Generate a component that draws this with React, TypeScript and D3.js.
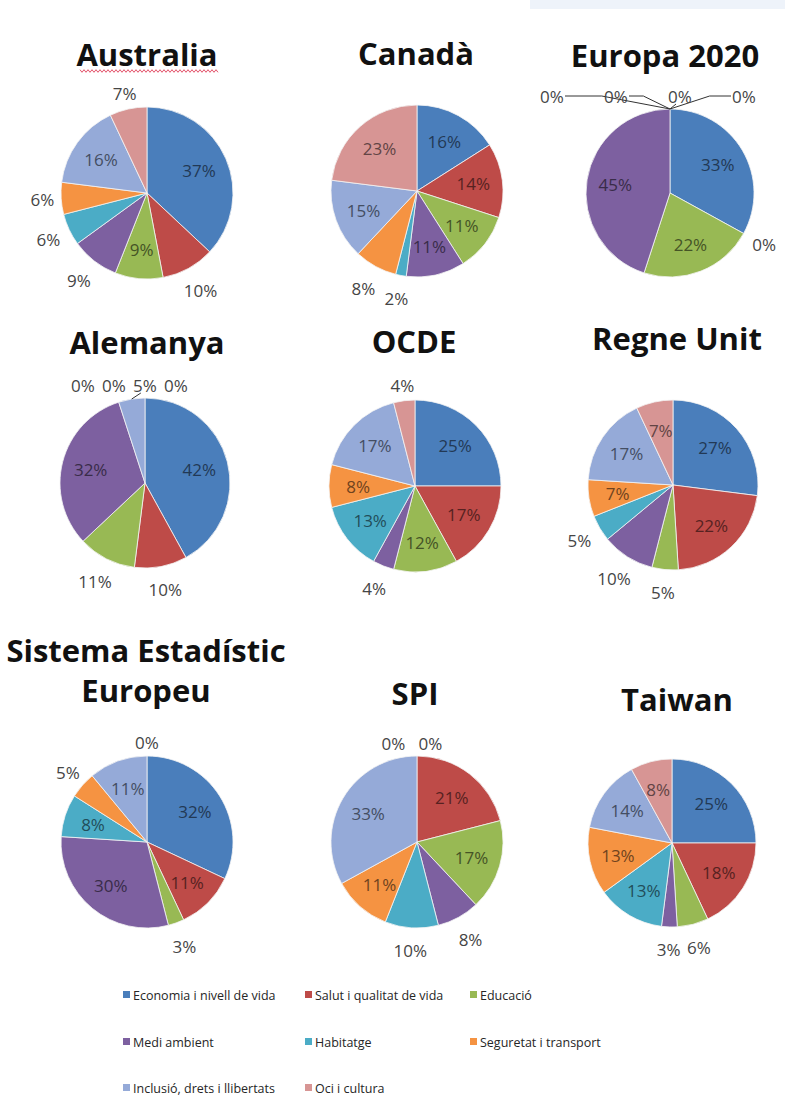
import React, { useEffect, useRef } from 'react';
import * as d3 from 'd3';

// categories in the legend (same order as the slices, clockwise from 12 o'clock)
const categories = [
  'Economia i nivell de vida',
  'Salut i qualitat de vida',
  'Educació',
  'Medi ambient',
  'Habitatge',
  'Seguretat i transport',
  'Inclusió, drets i llibertats',
  'Oci i cultura',
];
const colors = ['#4A7EBB', '#BE4B48', '#98B954', '#7D60A0', '#4BACC6', '#F59342', '#95AAD8', '#D79594'];

// percentages per country / organisation
const australia = [37, 10, 9, 9, 6, 6, 16, 7];
const canada = [16, 14, 11, 11, 2, 8, 15, 23];
const europa2020 = [33, 0, 22, 45, 0, 0, 0, 0];
const alemanya = [42, 10, 11, 32, 0, 0, 5, 0];
const ocde = [25, 17, 12, 4, 13, 8, 17, 4];
const regneUnit = [27, 22, 5, 10, 5, 7, 17, 7];
const sistemaEst = [32, 11, 3, 30, 8, 5, 11, 0];
const spi = [0, 21, 17, 8, 10, 11, 33, 0];
const taiwan = [25, 18, 6, 3, 13, 13, 14, 8];

// 1 = label inside the slice, 0 = outside
const australiaIn = [1, 0, 1, 0, 0, 0, 1, 0];
const canadaIn = [1, 1, 1, 1, 0, 0, 1, 1];
const europaIn = [1, 0, 1, 1, 0, 0, 0, 0];
const alemanyaIn = [1, 0, 0, 1, 0, 0, 0, 0];
const ocdeIn = [1, 1, 1, 0, 1, 1, 1, 0];
const regneIn = [1, 1, 0, 0, 0, 1, 1, 1];
const sistemaIn = [1, 1, 0, 1, 1, 0, 1, 0];
const spiIn = [0, 1, 1, 0, 0, 1, 1, 0];
const taiwanIn = [1, 1, 0, 0, 1, 1, 1, 1];

const charts = [
  { title: ['Australia'], values: australia, inside: australiaIn, cx: 147, cy: 193, r: 86, tx: 147, ty: [66], squiggle: true },
  { title: ['Canadà'], values: canada, inside: canadaIn, cx: 417, cy: 191, r: 86, tx: 416, ty: [65] },
  { title: ['Europa 2020'], values: europa2020, inside: europaIn, cx: 670, cy: 193, r: 84, tx: 665, ty: [67], spread: { gap: 64, shift: -22 }, leaders: [4, 5, 6, 7] },
  { title: ['Alemanya'], values: alemanya, inside: alemanyaIn, cx: 145, cy: 483, r: 85, tx: 147, ty: [354], spread: { gap: 31, shift: 4 }, leaders: [6] },
  { title: ['OCDE'], values: ocde, inside: ocdeIn, cx: 415, cy: 486, r: 86, tx: 414, ty: [353] },
  { title: ['Regne Unit'], values: regneUnit, inside: regneIn, cx: 673, cy: 485, r: 85, tx: 677, ty: [350] },
  { title: ['Sistema Estadístic', 'Europeu'], values: sistemaEst, inside: sistemaIn, cx: 147, cy: 842, r: 86, tx: 146, ty: [662, 702] },
  { title: ['SPI'], values: spi, inside: spiIn, cx: 417, cy: 842, r: 86, tx: 415, ty: [705], spread: { gap: 37, shift: -5 } },
  { title: ['Taiwan'], values: taiwan, inside: taiwanIn, cx: 672, cy: 843, r: 84, tx: 677, ty: [711] },
];

const legendX = [123, 305, 470];
const legendY = [995, 1042, 1088];

const FONT = "'Open Sans', 'DejaVu Sans', sans-serif";

export default function App() {
  const ref = useRef<SVGSVGElement>(null);

  useEffect(() => {
    const svg = d3.select(ref.current);
    svg.selectAll('*').remove();

    svg.append('rect').attr('width', 785).attr('height', 1098).attr('fill', '#fff');
    // faint band at the top right of the screenshot
    svg.append('rect').attr('x', 530).attr('y', 0).attr('width', 255).attr('height', 9).attr('fill', '#EEF3FA');

    const pie = d3.pie<number>().sort(null).value((d) => d);
    const key = (m: number) => (m >= Math.PI ? m - 2 * Math.PI : m);

    charts.forEach((c: any) => {
      // title
      const t = svg.append('text')
        .attr('text-anchor', 'middle')
        .attr('font-family', FONT)
        .attr('font-weight', 700)
        .attr('font-size', 31)
        .attr('fill', '#111');
      c.title.forEach((line: string, k: number) => {
        t.append('tspan').attr('x', c.tx).attr('y', c.ty[k]).text(line);
      });
      if (c.squiggle) {
        const pts: [number, number][] = [];
        for (let x = 80, k = 0; x <= 218; x += 2, k++) pts.push([x, 71 + (k % 2 ? 1.3 : -1.3)]);
        svg.append('path').attr('d', d3.line()(pts)).attr('fill', 'none').attr('stroke', '#e0405a').attr('stroke-width', 0.9);
      }

      const g = svg.append('g').attr('transform', `translate(${c.cx},${c.cy})`);
      const arcs = pie(c.values);
      const arc = d3.arc<d3.PieArcDatum<number>>().innerRadius(0).outerRadius(c.r);

      g.selectAll('path.slice')
        .data(arcs.filter((a) => a.value > 0))
        .enter()
        .append('path')
        .attr('class', 'slice')
        .attr('d', arc)
        .attr('fill', (d) => colors[d.index])
        .attr('stroke', '#f4f4f4')
        .attr('stroke-width', 0.8);

      const labels = arcs.map((a, i) => {
        const mid = (a.startAngle + a.endAngle) / 2;
        const dx = Math.sin(mid);
        const dy = -Math.cos(mid);
        const inside = !!c.inside[i];
        const dist = inside ? c.r * 0.66 : c.r + 8 + 10 * Math.abs(dx) + (dy > 0 ? 14 : 6) * Math.abs(dy);
        return { i, mid, dx, dy, inside, x: dx * dist, y: dy * dist, v: a.value };
      });

      // crowded labels at the top are spread along one row
      const top = labels.filter((l) => !l.inside && Math.abs(key(l.mid)) < 0.45);
      if (top.length > 1) {
        top.sort((a, b) => key(a.mid) - key(b.mid) || (b.mid >= Math.PI ? 1 : 0) - (a.mid >= Math.PI ? 1 : 0) || a.i - b.i);
        const gap = c.spread ? c.spread.gap : 32;
        const shift = c.spread ? c.spread.shift : 0;
        const mean = d3.mean(top, (l) => l.x) as number;
        top.forEach((l, k) => {
          l.x = mean + shift + (k - (top.length - 1) / 2) * gap;
          l.y = -c.r - 13;
        });
      }

      // leader lines
      (c.leaders || []).forEach((idx: number) => {
        const l = labels[idx];
        const tx = l.dx * c.r;
        const ty = l.dy * c.r;
        let d: string;
        if (Math.abs(l.x - tx) < 15) {
          d = `M${l.x - 4},${l.y + 8}L${tx},${ty}`;
        } else {
          const s = tx > l.x ? 1 : -1;
          const e = l.x + s * 13;
          const elbow = e + (tx - e) * 0.35;
          d = `M${e},${l.y}H${elbow}L${tx},${ty}`;
        }
        g.append('path').attr('d', d).attr('fill', 'none').attr('stroke', '#333').attr('stroke-width', 1);
      });

      g.selectAll('text.lbl')
        .data(labels)
        .enter()
        .append('text')
        .attr('class', 'lbl')
        .attr('x', (l) => l.x)
        .attr('y', (l) => l.y)
        .attr('text-anchor', 'middle')
        .attr('dominant-baseline', 'central')
        .attr('font-family', FONT)
        .attr('font-size', 17)
        .attr('fill', (l) => (l.inside ? (d3.color(colors[l.i]) as d3.RGBColor).darker(2.2).formatHex() : '#454545'))
        .text((l) => `${l.v}%`);
    });

    // legend
    const leg = svg.append('g');
    categories.forEach((name, i) => {
      const x = legendX[i % 3];
      const y = legendY[Math.floor(i / 3)];
      leg.append('rect').attr('x', x).attr('y', y - 4).attr('width', 7).attr('height', 7).attr('fill', colors[i]);
      leg.append('text')
        .attr('x', x + 10)
        .attr('y', y)
        .attr('dominant-baseline', 'central')
        .attr('font-family', FONT)
        .attr('font-size', 12.5)
        .attr('fill', '#262626')
        .text(name);
    });
  }, []);

  return (
    <svg ref={ref} width={785} height={1098} style={{ position: 'absolute', left: 0, top: 0 }} />
  );
}
